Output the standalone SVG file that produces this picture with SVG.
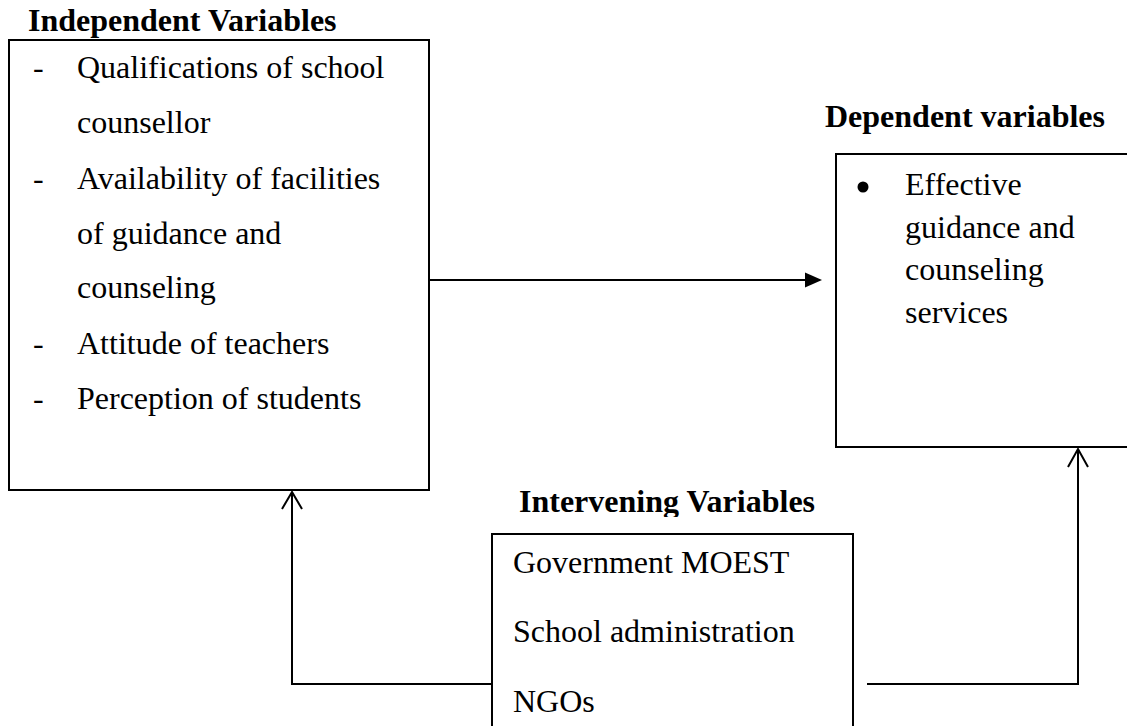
<svg xmlns="http://www.w3.org/2000/svg" width="1127" height="726" viewBox="0 0 1127 726">
<style>
.box{fill:#fff;stroke:#000;stroke-width:2}
.t{font-family:"Liberation Serif","Times New Roman",serif;font-size:32px;fill:#000}
.h{font-family:"Liberation Serif","Times New Roman",serif;font-size:32px;font-weight:bold;fill:#000}
.c{fill:none;stroke:#000;stroke-width:2}
</style>
<defs>
<clipPath id="clipHead"><rect x="500" y="470" width="340" height="47"/></clipPath>
</defs>
<rect width="1127" height="726" fill="#fff"/>
<g id="independent">
<text class="h" x="28" y="31">Independent Variables</text>
<rect class="box" x="9" y="40" width="420" height="450"/>
<text class="t" x="33" y="78">-</text>
<text class="t" x="77" y="78">Qualifications of school</text>
<text class="t" x="77" y="133">counsellor</text>
<text class="t" x="33" y="189">-</text>
<text class="t" x="77" y="189">Availability of facilities</text>
<text class="t" x="77" y="244">of guidance and</text>
<text class="t" x="77" y="298">counseling</text>
<text class="t" x="33" y="354">-</text>
<text class="t" x="77" y="354">Attitude of teachers</text>
<text class="t" x="33" y="409">-</text>
<text class="t" x="77" y="409">Perception of students</text>
</g>
<g id="dependent">
<text class="h" x="825" y="127">Dependent variables</text>
<rect class="box" x="836" y="154" width="300" height="293"/>
<circle cx="863" cy="187" r="5.5" fill="#000"/>
<text class="t" x="905" y="195">Effective</text>
<text class="t" x="905" y="238">guidance and</text>
<text class="t" x="905" y="280">counseling</text>
<text class="t" x="905" y="323">services</text>
</g>
<g id="intervening">
<text class="h" x="519" y="512" clip-path="url(#clipHead)">Intervening Variables</text>
<rect class="box" x="492" y="534" width="361" height="200"/>
<text class="t" x="513" y="573">Government MOEST</text>
<text class="t" x="513" y="642">School administration</text>
<text class="t" x="513" y="712">NGOs</text>
</g>
<g id="connectors">
<line class="c" x1="430" y1="280" x2="806" y2="280"/>
<polygon points="805,272.5 822,280 805,287.5" fill="#000"/>
<polyline class="c" points="491,684 292,684 292,492"/>
<polyline class="c" points="282,509 292,492 302,509"/>
<polyline class="c" points="867,684 1078,684 1078,449"/>
<polyline class="c" points="1068,467 1078,449 1088,467"/>
</g>
</svg>
